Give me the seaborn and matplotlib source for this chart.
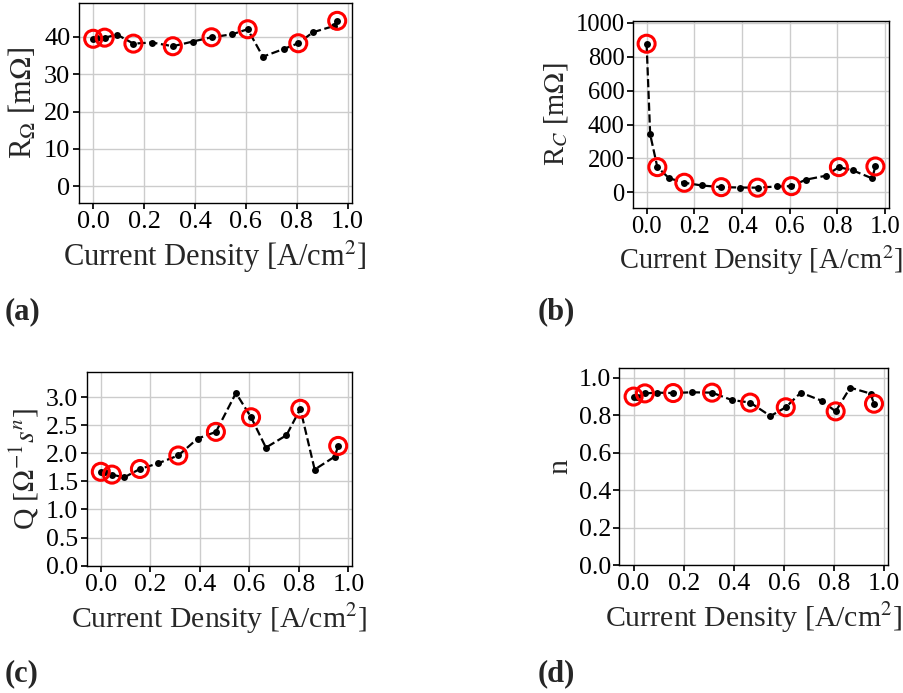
import numpy as np
import pandas as pd
import matplotlib
matplotlib.use("Agg")
import matplotlib.pyplot as plt
import seaborn as sns

# Current density of each impedance measurement [A/cm^2]
current_density = [0.000, 0.015, 0.045, 0.094, 0.158, 0.231, 0.313, 0.391,
                   0.465, 0.546, 0.607, 0.667, 0.750, 0.806, 0.864, 0.945, 0.959]

# Fitted equivalent-circuit parameters
r_ohm = [39.5, 39.8, 39.8, 40.6, 38.2, 38.5, 37.5, 38.75, 39.9, 40.7,
         42.05, 34.7, 36.8, 38.3, 41.25, 42.9, 44.3]
r_ct = [876, 342, 149, 84, 57, 41, 31, 29, 28, 35, 37, 75, 98, 149, 130, 83, 153]
q_cpe = [1.67, 1.67, 1.62, 1.57, 1.72, 1.82, 1.96, 2.26, 2.38, 3.07, 2.64,
         2.10, 2.32, 2.79, 1.71, 1.94, 2.13]
n_cpe = [0.899, 0.899, 0.916, 0.920, 0.918, 0.922, 0.920, 0.881, 0.867, 0.795,
         0.842, 0.920, 0.877, 0.820, 0.947, 0.915, 0.861]

# Operating points highlighted with a ring
highlight_idx = [0, 2, 4, 6, 8, 10, 13, 16]

sns.set_theme(style="whitegrid")
plt.rcParams["font.family"] = ["Liberation Serif", "DejaVu Serif"]
plt.rcParams["mathtext.fontset"] = "stix"
plt.rcParams.update({
    "axes.edgecolor": "black",
    "axes.linewidth": 1.0,
    "grid.color": "#cccccc",
    "grid.linewidth": 1.0,
    "xtick.bottom": True,
    "ytick.left": True,
    "xtick.color": "black",
    "ytick.color": "black",
    "xtick.major.size": 4,
    "ytick.major.size": 4,
})

df = pd.DataFrame({"j": current_density, "r_ohm": r_ohm, "r_ct": r_ct,
                   "q": q_cpe, "n": n_cpe})
hl = df.iloc[highlight_idx]

W, H = 904, 693
fig = plt.figure(figsize=(W / 100, H / 100), dpi=100)


def px_axes(left, top, right, bottom):
    return fig.add_axes([left / W, 1 - bottom / H, (right - left) / W, (bottom - top) / H])


# (axes, column, y label, y limits, y ticks, tick format, font scale)
panels = [
    (px_axes(78.7, 3.3, 351.7, 202.7), "r_ohm", r"R$_\Omega$ [m$\Omega$]",
     (-4.4, 49.0), np.arange(0, 41, 10), "{:.0f}", 1.0),
    (px_axes(633, 21, 889, 207.7), "r_ct", r"R$_C$ [m$\Omega$]",
     (-90, 1010), np.arange(0, 1001, 200), "{:.0f}", 0.935),
    (px_axes(86.7, 371.7, 352.3, 565.7), "q", r"Q [$\Omega^{-1}s^n$]",
     (0, 3.45), np.arange(0, 3.01, 0.5), "{:.1f}", 0.975),
    (px_axes(619.3, 368.3, 888.3, 565), "n", "n",
     (0, 1.05), np.arange(0, 1.01, 0.2), "{:.1f}", 0.98),
]

xticks = np.arange(0, 1.01, 0.2)
for ax, col, ylabel, ylim, yticks, fmt, scale in panels:
    sns.lineplot(data=df, x="j", y=col, ax=ax, color="black", linestyle="--",
                 linewidth=1.6, marker="o", markersize=5, markeredgewidth=0,
                 zorder=3)
    sns.scatterplot(data=hl, x="j", y=col, ax=ax, s=150, facecolor="none",
                    edgecolor="red", linewidth=2.2, zorder=4)
    ax.set_xlim(-0.057, 1.016)
    ax.set_ylim(*ylim)
    ax.set_xticks(xticks)
    ax.set_xticklabels([f"{v:.1f}" for v in xticks])
    ax.set_yticks(yticks)
    ax.set_yticklabels([fmt.format(v) for v in yticks])
    ax.set_xlabel(r"Current Density [A/cm$^2$]", fontsize=22 * scale)
    ax.set_ylabel(ylabel, fontsize=22 * scale)
    ax.tick_params(axis="both", pad=2, labelsize=19 * scale)
    for s in ax.spines.values():
        s.set_color("black")

fig.text(5 / W, 1 - 312 / H, "(a)", fontsize=22, fontweight="bold", va="center", ha="left")
fig.text(538 / W, 1 - 312 / H, "(b)", fontsize=22, fontweight="bold", va="center", ha="left")
fig.text(5 / W, 1 - 674 / H, "(c)", fontsize=22, fontweight="bold", va="center", ha="left")
fig.text(538 / W, 1 - 674 / H, "(d)", fontsize=22, fontweight="bold", va="center", ha="left")

fig.savefig("out.png", dpi=100)
